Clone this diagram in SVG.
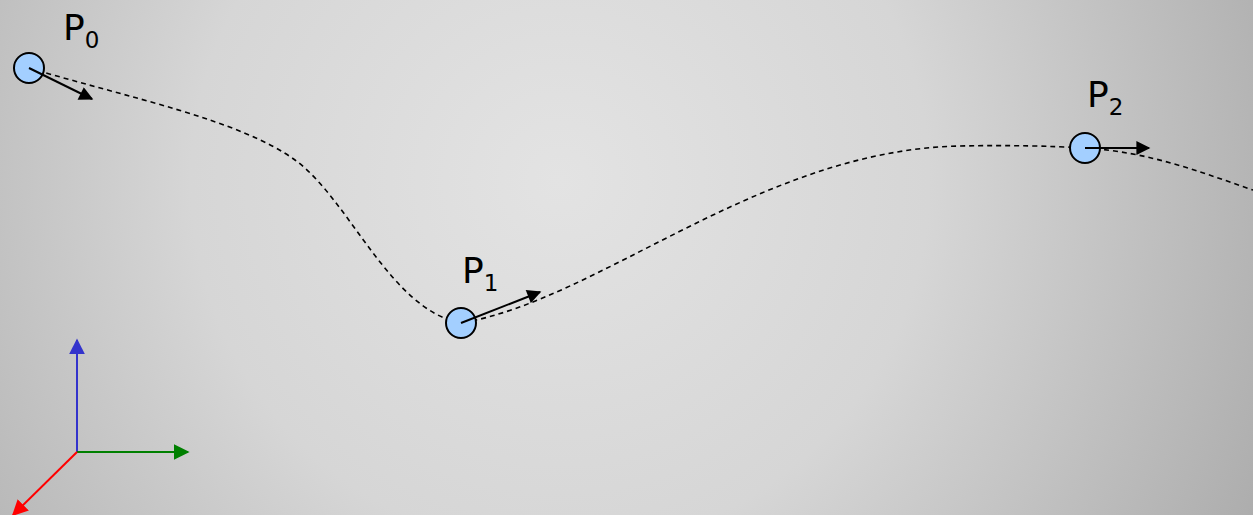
<svg xmlns="http://www.w3.org/2000/svg" width="1253" height="515" viewBox="0 0 1253 515">
  <defs>
    <radialGradient id="bg" cx="560" cy="180" r="820" gradientUnits="userSpaceOnUse">
      <stop offset="0" stop-color="#e3e3e3"/>
      <stop offset="0.45" stop-color="#d6d6d6"/>
      <stop offset="1" stop-color="#a8a8a8"/>
    </radialGradient>
    <marker id="ah" viewBox="0 0 10 10" refX="9" refY="5" markerWidth="8" markerHeight="7" orient="auto">
      <path d="M0,0 L10,5 L0,10 z" fill="#000"/>
    </marker>
    <marker id="ahB" viewBox="0 0 10 10" refX="9" refY="5" markerWidth="8" markerHeight="8" orient="auto">
      <path d="M0,0 L10,5 L0,10 z" fill="#3333cc"/>
    </marker>
    <marker id="ahG" viewBox="0 0 10 10" refX="9" refY="5" markerWidth="8" markerHeight="8" orient="auto">
      <path d="M0,0 L10,5 L0,10 z" fill="#008000"/>
    </marker>
    <marker id="ahR" viewBox="0 0 10 10" refX="9" refY="5" markerWidth="8" markerHeight="8" orient="auto">
      <path d="M0,0 L10,5 L0,10 z" fill="#ff0000"/>
    </marker>
  </defs>
  <style>
    .pt { fill: #a3cfff; stroke: #000; stroke-width: 2; }
    .curve { fill: none; stroke: #000; stroke-width: 1.6; stroke-dasharray: 5 4; }
    .tan { stroke: #000; stroke-width: 2; marker-end: url(#ah); }
    .lbl { font-family: "DejaVu Sans", sans-serif; font-size: 36px; fill: #000; }
    .sub { font-size: 23px; }
  </style>

  <rect width="1253" height="515" fill="url(#bg)"/>

  <!-- spline through the control points -->
  <g id="connectors">
    <path class="curve" d="M29,68 C130,98 240,120 295,160 C350,200 390,310 461,323 C600,300 760,150 960,146 C1010,145 1050,146 1085,148 C1150,152 1200,172 1253,190"/>
  </g>

  <g id="P0">
    <circle class="pt" cx="29" cy="68" r="15"/>
    <line class="tan" x1="29" y1="68" x2="92" y2="99"/>
    <text class="lbl" x="63" y="40">P<tspan class="sub" dy="8">0</tspan></text>
  </g>

  <g id="P1">
    <circle class="pt" cx="461" cy="323" r="15"/>
    <line class="tan" x1="461" y1="323" x2="540" y2="292"/>
    <text class="lbl" x="462" y="283">P<tspan class="sub" dy="8">1</tspan></text>
  </g>

  <g id="P2">
    <circle class="pt" cx="1085" cy="148" r="15"/>
    <line class="tan" x1="1085" y1="148" x2="1149" y2="148"/>
    <text class="lbl" x="1087" y="107">P<tspan class="sub" dy="8">2</tspan></text>
  </g>

  <!-- coordinate axes -->
  <g id="axes" stroke-width="2">
    <line x1="77" y1="452" x2="77" y2="340" stroke="#3333cc" marker-end="url(#ahB)"/>
    <line x1="77" y1="452" x2="188" y2="452" stroke="#008000" marker-end="url(#ahG)"/>
    <line x1="77" y1="452" x2="13" y2="515" stroke="#ff0000" marker-end="url(#ahR)"/>
  </g>
</svg>
